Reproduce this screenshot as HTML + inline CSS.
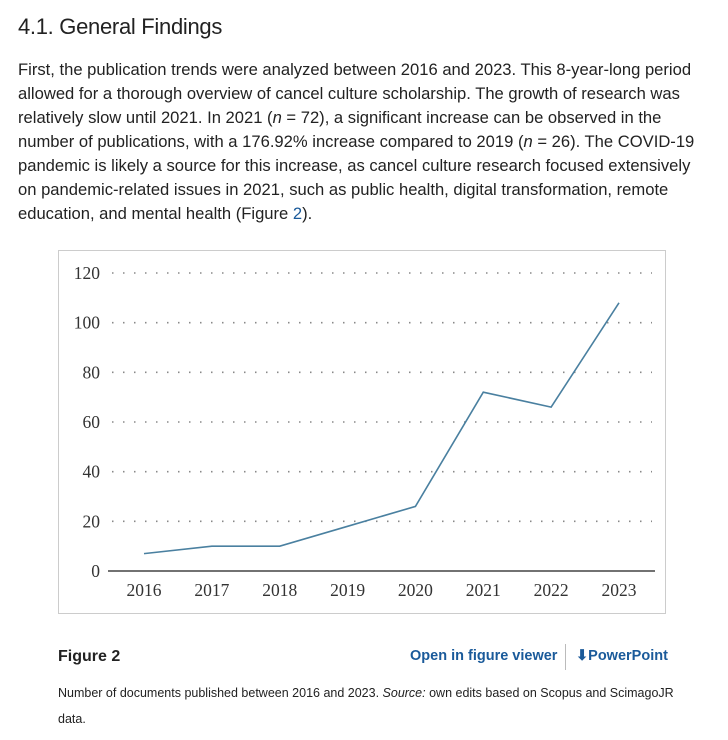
<!DOCTYPE html>
<html><head><meta charset="utf-8"><style>
body{margin:0;width:728px;height:740px;background:#fff;font-family:"Liberation Sans",sans-serif;color:#222;overflow:hidden;position:relative}
h2{position:absolute;left:18px;top:14px;margin:0;font-weight:normal;font-size:22px;color:#222;letter-spacing:-0.3px}
.p{position:absolute;left:18px;top:58px;font-size:16.6px;line-height:24px;color:#222}
.p div{white-space:nowrap}
a{color:#1a5a9a;text-decoration:none}
#fig{position:absolute;left:58px;top:250px;width:608px;height:364px;border:1px solid #ccc;box-sizing:border-box}
.fl{position:absolute;top:648px;font-size:15px}
.cap{position:absolute;left:58px;top:680px;font-size:12.5px;line-height:26px;color:#222}
</style></head><body>
<h2>4.1. General Findings</h2>
<div class="p">
<div>First, the publication trends were analyzed between 2016 and 2023. This 8-year-long period</div>
<div>allowed for a thorough overview of cancel culture scholarship. The growth of research was</div>
<div>relatively slow until 2021. In 2021 (<i>n</i> = 72), a significant increase can be observed in the</div>
<div>number of publications, with a 176.92% increase compared to 2019 (<i>n</i> = 26). The COVID-19</div>
<div>pandemic is likely a source for this increase, as cancel culture research focused extensively</div>
<div>on pandemic-related issues in 2021, such as public health, digital transformation, remote</div>
<div>education, and mental health (Figure <a href="#fig">2</a>).</div>
</div>
<div id="fig"></div>
<svg id="chart" width="728" height="740" style="position:absolute;left:0;top:0"></svg>
<div class="fl" style="left:58px;font-weight:bold;font-size:16px">Figure 2</div>
<a class="fl" style="left:410px;font-weight:bold;font-size:14.5px" href="#fig">Open in figure viewer</a>
<div class="fl" style="left:565px;top:644px;width:1px;height:26px;background:#bbb"></div>
<a class="fl" style="left:576px;font-weight:bold;font-size:14.5px" href="#fig">&#11015;PowerPoint</a>
<div class="cap">Number of documents published between 2016 and 2023. <i>Source:</i> own edits based on Scopus and ScimagoJR<br>data.</div>
<script>
const years=["2016","2017","2018","2019","2020","2021","2022","2023"];
const counts=[7,10,10,18,26,72,66,108];
const yTicks=[0,20,40,60,80,100,120];
const NS="http://www.w3.org/2000/svg";
const svg=document.getElementById('chart');
const x=i=>144+i*(619-144)/7;
const y=v=>571-v*(571-273)/120;
function mk(t,a){const e=document.createElementNS(NS,t);for(const k in a)e.setAttribute(k,a[k]);svg.appendChild(e);return e;}
yTicks.forEach(v=>{
 if(v>0){const g=mk('line',{x1:112,x2:652,y1:y(v),y2:y(v),stroke:'#888','stroke-width':1.6,'stroke-dasharray':'1.5 9.5'});
 
 }
 const t=mk('text',{x:100,y:y(v)+6,'text-anchor':'end','font-size':17.5,'font-family':'Liberation Serif, serif',fill:'#333'});
 t.textContent=v;
 
 
});
const ax=mk('line',{x1:108,x2:655,y1:571,y2:571,stroke:'#444','stroke-width':1.5});


years.forEach((yr,i)=>{
 const t=mk('text',{x:x(i),y:596,'text-anchor':'middle','font-size':17.5,'font-family':'Liberation Serif, serif',fill:'#333'});
 t.textContent=yr;
 
 
});
const pl=mk('polyline',{points:counts.map((v,i)=>x(i)+','+y(v)).join(' '),fill:'none',stroke:'#4a80a0','stroke-width':1.6});


</script>
</body></html>
